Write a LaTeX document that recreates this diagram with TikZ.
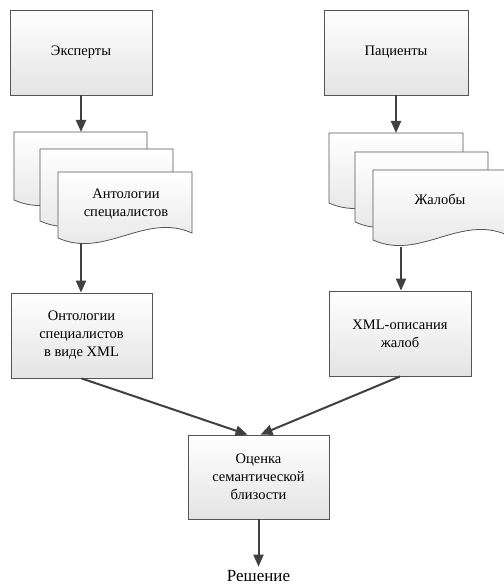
\documentclass[tikz,border=0pt]{standalone}
\usepackage{fontspec}
\setmainfont{Liberation Serif}
\usetikzlibrary{arrows.meta,calc}
\definecolor{edge}{HTML}{555555}
\definecolor{arr}{HTML}{404040}
\definecolor{shadebot}{HTML}{E4E4E4}
\tikzset{
  box/.style={draw=edge, line width=0.8pt, top color=white, bottom color=shadebot,
    align=center, font=\fontsize{14.5}{18}\selectfont, inner sep=0pt},
  doc/.style={draw=edge, line width=0.8pt, top color=white, bottom color=shadebot},
  conn/.style={draw=arr, line width=2pt, -{Triangle[length=12pt,width=10pt]}},
  lbl/.style={align=center, font=\fontsize{14.5}{18}\selectfont, inner sep=0pt},
}
% document shape: #1 = left x, #2 = top (measured downward), #3 = width, #4 = height
\newcommand\docshape[4]{%
  \pgfmathsetmacro\dxl{#1}\pgfmathsetmacro\dyt{-(#2)}%
  \pgfmathsetmacro\dxr{#1+#3}\pgfmathsetmacro\dyb{-(#2+#4)}\pgfmathsetmacro\dyr{-(#2+#4-5)}%
  \pgfmathsetmacro\cxa{#1+0.65*#3}\pgfmathsetmacro\cxb{#1+0.35*#3}%
  \pgfmathsetmacro\cya{-(#2+#4-5-21)}\pgfmathsetmacro\cyb{-(#2+#4+21)}%
  \path[doc] (\dxl,\dyt) -- (\dxr,\dyt) -- (\dxr,\dyr) .. controls (\cxa,\cya) and (\cxb,\cyb) .. (\dxl,\dyb) -- cycle;}
\begin{document}
\begin{tikzpicture}[x=1pt,y=1pt]
\useasboundingbox (0,0) rectangle (503,-585);
% top boxes
\node[box, minimum width=142pt, minimum height=85pt] (exp) at (81,-52.5) {Эксперты};
\node[box, minimum width=144pt, minimum height=85pt] (pac) at (396,-52.5) {Пациенты};
% left document stack
\docshape{14}{132}{133}{68}
\docshape{40}{149}{133}{72}
\docshape{58}{172}{134}{66}
\node[lbl] (ant) at (126,-204) {Антологии\\специалистов};
\coordinate (antin) at (81,-132);
\coordinate (antout) at (81,-243);
% right document stack
\docshape{329}{133}{134}{70}
\docshape{355}{152}{133}{70}
\docshape{373}{170}{134}{70}
\node[lbl] (zhal) at (440,-199) {Жалобы};
\coordinate (zhin) at (396,-133);
\coordinate (zhout) at (401,-247);
% middle boxes
\node[box, minimum width=141pt, minimum height=85pt] (ont) at (81.5,-335.5) {Онтологии\\специалистов\\в виде XML};
\node[box, minimum width=142pt, minimum height=85pt] (xml) at (400,-333.5) {XML-описания\\жалоб};
\node[box, minimum width=141pt, minimum height=84pt] (oc) at (258.5,-477) {Оценка\\семантической\\близости};
\node[lbl, font=\fontsize{17}{20}\selectfont, anchor=base] (res) at (258.5,-581) {Решение};
% connectors
\draw[conn] (exp.south) -- (antin);
\draw[conn] (antout) -- (antout |- ont.north);
\draw[conn] (pac.south) -- (zhin);
\draw[conn] (zhout) -- (zhout |- xml.north);
\draw[conn] (ont.south) -- ([xshift=-11pt]oc.north);
\draw[conn] (xml.south) -- ([xshift=2pt]oc.north);
\draw[conn, shorten >=3pt] (oc.south) -- (res.north);
\end{tikzpicture}
\end{document}
